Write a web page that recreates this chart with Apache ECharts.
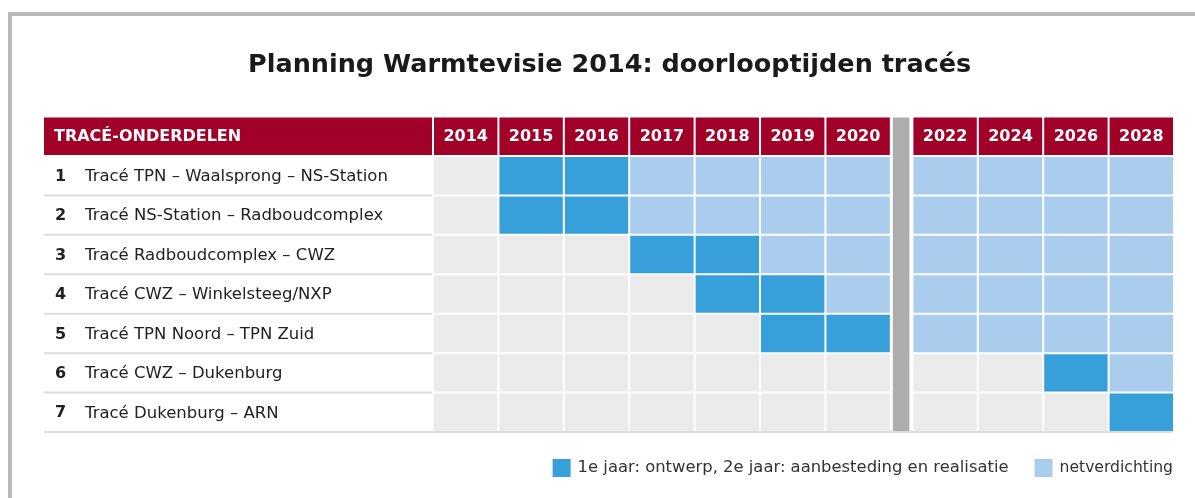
<!DOCTYPE html>
<html>
<head>
<meta charset="utf-8">
<script src="https://cdn.jsdelivr.net/npm/echarts@6/dist/echarts.min.js"></script>
<style>
html,body{margin:0;padding:0;background:#fff;}
#chart{width:1195px;height:498px;}
</style>
</head>
<body>
<div id="chart"></div>
<script>
// ---------- data ----------
const title = 'Planning Warmtevisie 2014: doorlooptijden tracés';
const labelHeader = 'TRACÉ-ONDERDELEN';
const years = ['2014', '2015', '2016', '2017', '2018', '2019', '2020', '2022', '2024', '2026', '2028'];
const traceNumbers = ['1', '2', '3', '4', '5', '6', '7'];
const traceNames = [
  'Tracé TPN – Waalsprong – NS-Station',
  'Tracé NS-Station – Radboudcomplex',
  'Tracé Radboudcomplex – CWZ',
  'Tracé CWZ – Winkelsteeg/NXP',
  'Tracé TPN Noord – TPN Zuid',
  'Tracé CWZ – Dukenburg',
  'Tracé Dukenburg – ARN'
];
// 0 = niets, 1 = ontwerp / aanbesteding en realisatie, 2 = netverdichting
const statusRows = [
  [0, 1, 1, 2, 2, 2, 2, 2, 2, 2, 2],
  [0, 1, 1, 2, 2, 2, 2, 2, 2, 2, 2],
  [0, 0, 0, 1, 1, 2, 2, 2, 2, 2, 2],
  [0, 0, 0, 0, 1, 1, 2, 2, 2, 2, 2],
  [0, 0, 0, 0, 0, 1, 1, 2, 2, 2, 2],
  [0, 0, 0, 0, 0, 0, 0, 0, 0, 1, 2],
  [0, 0, 0, 0, 0, 0, 0, 0, 0, 0, 1]
];
const legendNames = ['1e jaar: ontwerp, 2e jaar: aanbesteding en realisatie', 'netverdichting'];

// ---------- styling / layout ----------
const FONT = 'DejaVu Sans';
const C_RED = '#A10029';
const C_DARK = '#379FD9';
const C_LIGHT = '#AACDEE';
const C_EMPTY = '#EBEBEB';
const C_BAR = '#ADADAD';
const C_SEP = '#DDDDDD';
const LABEL_W = 5.933;   // width of the label column, in column units
const GAP_W = 0.33;      // width of the break column, in column units
const BREAK_AFTER = 7;   // break after the 7th year column

function colStart(c) { return c < BREAK_AFTER ? c : c + GAP_W; }

const cellsByStatus = [[], [], []];
statusRows.forEach((row, r) => row.forEach((s, c) => cellsByStatus[s].push([c, r])));

function cellRender(color) {
  return function (params, api) {
    const c = api.value(0), r = api.value(1);
    const x0 = colStart(c);
    const p0 = api.coord([x0, r + 1]);
    const p1 = api.coord([x0 + 1, r + 2]);
    return {
      type: 'rect',
      shape: { x: p0[0] + 2, y: p0[1], width: p1[0] - p0[0] - 2, height: p1[1] - p0[1] - 2 },
      style: { fill: color }
    };
  };
}

const headerData = years.map((y, i) => [i, y]);
const rowLabelData = traceNames.map((n, i) => [i, traceNumbers[i], n]);

const chart = echarts.init(document.getElementById('chart'), null, { renderer: 'canvas' });
chart.setOption({
  animation: false,
  backgroundColor: '#fff',
  graphic: [{
    type: 'rect',
    shape: { x: 10, y: 14, width: 1400, height: 900 },
    style: { fill: null, stroke: '#B9B9B9', lineWidth: 4 },
    silent: true
  }],
  title: {
    text: title,
    left: 243,
    top: 47,
    textStyle: { fontFamily: FONT, fontWeight: 'bold', fontSize: 25.5, color: '#1a1a1a' }
  },
  legend: {
    data: [
      { name: legendNames[0] },
      { name: legendNames[1], textStyle: { fontSize: 15.6 } }
    ],
    right: 22,
    top: 459,
    padding: 0,
    icon: 'rect',
    itemWidth: 18,
    itemHeight: 18,
    itemGap: 26,
    selectedMode: false,
    textStyle: { fontFamily: FONT, fontSize: 16.4, color: '#333', padding: [0, 0, 0, 2] }
  },
  grid: { left: 44, right: 22, top: 117.5, bottom: 65 },
  xAxis: { type: 'value', min: -LABEL_W, max: years.length + GAP_W, show: false },
  yAxis: { type: 'value', min: 0, max: traceNames.length + 1, inverse: true, show: false },
  series: [
    {
      name: 'leeg', type: 'custom', data: cellsByStatus[0],
      renderItem: cellRender(C_EMPTY), itemStyle: { color: C_EMPTY }, silent: true
    },
    {
      name: legendNames[0], type: 'custom', data: cellsByStatus[1],
      renderItem: cellRender(C_DARK), itemStyle: { color: C_DARK }, silent: true
    },
    {
      name: legendNames[1], type: 'custom', data: cellsByStatus[2],
      renderItem: cellRender(C_LIGHT), itemStyle: { color: C_LIGHT }, silent: true
    },
    {
      // year header cells
      name: 'jaren', type: 'custom', data: headerData, silent: true,
      renderItem: function (params, api) {
        const c = api.value(0);
        const x0 = colStart(c);
        const p0 = api.coord([x0, 0]);
        const p1 = api.coord([x0 + 1, 1]);
        const w = p1[0] - p0[0] - 2, h = p1[1] - p0[1] - 2;
        return {
          type: 'group',
          children: [
            { type: 'rect', shape: { x: p0[0] + 2, y: p0[1], width: w, height: h }, style: { fill: C_RED } },
            {
              type: 'text',
              style: {
                x: p0[0] + 2 + w / 2, y: p0[1] + h / 2 + 1, text: years[c],
                fill: '#fff', font: 'bold 16px "' + FONT + '"', align: 'center', verticalAlign: 'middle'
              }
            }
          ]
        };
      }
    },
    {
      // label column header
      name: 'kop', type: 'custom', data: [[0]], silent: true,
      renderItem: function (params, api) {
        const p0 = api.coord([-LABEL_W, 0]);
        const p1 = api.coord([0, 1]);
        const h = p1[1] - p0[1] - 2;
        return {
          type: 'group',
          children: [
            { type: 'rect', shape: { x: p0[0], y: p0[1], width: p1[0] - p0[0], height: h }, style: { fill: C_RED } },
            {
              type: 'text',
              style: {
                x: p0[0] + 10, y: p0[1] + h / 2 + 1, text: labelHeader,
                fill: '#fff', font: 'bold 16px "' + FONT + '"', align: 'left', verticalAlign: 'middle'
              }
            }
          ]
        };
      }
    },
    {
      // row labels with separators
      name: 'tracés', type: 'custom', data: rowLabelData, silent: true,
      renderItem: function (params, api) {
        const r = api.value(0);
        const i = params.dataIndex;
        const last = i === traceNames.length - 1;
        const p0 = api.coord([-LABEL_W, r + 1]);
        const p1 = api.coord([last ? years.length + GAP_W : 0, r + 2]);
        const h = p1[1] - p0[1] - 2;
        return {
          type: 'group',
          children: [
            { type: 'rect', shape: { x: p0[0], y: p1[1] - 2, width: p1[0] - p0[0], height: 2 }, style: { fill: C_SEP } },
            {
              type: 'text',
              style: {
                x: p0[0] + 11, y: p0[1] + h / 2 + 1, text: traceNumbers[i],
                fill: '#222', font: 'bold 16px "' + FONT + '"', align: 'left', verticalAlign: 'middle'
              }
            },
            {
              type: 'text',
              style: {
                x: p0[0] + 41, y: p0[1] + h / 2 + 1, text: traceNames[i],
                fill: '#222', font: '16.5px "' + FONT + '"', align: 'left', verticalAlign: 'middle'
              }
            }
          ]
        };
      }
    },
    {
      // break bar between 2020 and 2022
      name: 'onderbreking', type: 'custom', data: [[BREAK_AFTER]], silent: true,
      renderItem: function (params, api) {
        const p0 = api.coord([BREAK_AFTER, 0]);
        const p1 = api.coord([BREAK_AFTER + GAP_W, traceNames.length + 1]);
        return {
          type: 'rect',
          shape: { x: p0[0] + 3, y: p0[1], width: p1[0] - p0[0] - 5, height: p1[1] - p0[1] - 2 },
          style: { fill: C_BAR }
        };
      }
    }
  ]
});
</script>
</body>
</html>
